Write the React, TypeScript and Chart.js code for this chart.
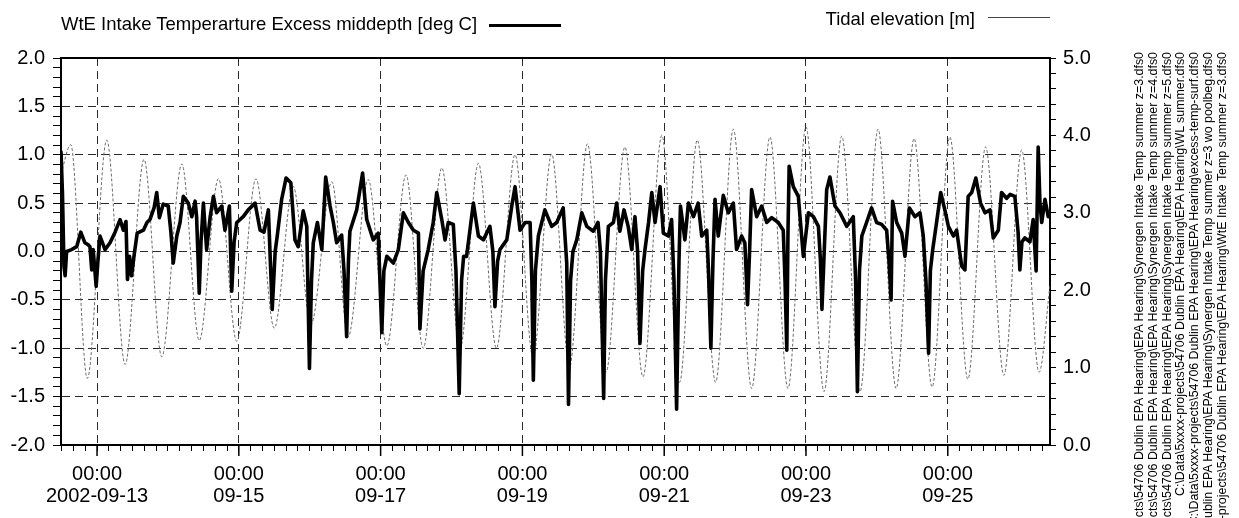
import React, { useEffect, useRef } from 'react';
import { Chart, registerables } from 'chart.js';

Chart.register(...registerables);

const FONT = '"Liberation Sans", Arial, Helvetica, sans-serif';

// Time axis: hours since 2002-09-13 00:00
const xMin = -12.2;
const xMax = 322.6;
const labelEveryHours = 48;
const minorTickHours = 4;

// WtE intake temperature excess, middepth [deg C] (left axis)
const tempHours = [
  -12.2, -11.7, -11.2, -10.8, -10.3, -8.6, -6.9, -5.5, -4.1, -3.0,
  -2.4, -1.8, -1.3, -0.3, 0.3, 1.0, 2.7, 4.4, 6.1, 7.8,
  8.9, 9.8, 10.3, 11.0, 11.7, 12.5, 13.6, 15.7, 16.9, 17.9,
  19.3, 20.2, 21.1, 22.4, 24.1, 25.0, 25.8, 27.0, 28.1, 29.2,
  30.9, 32.1, 33.2, 33.7, 34.6, 35.2, 36.0, 37.1, 38.3, 39.4,
  40.5, 42.2, 43.3, 44.8, 45.6, 46.4, 47.3, 49.5, 51.2, 53.5,
  55.2, 56.5, 58.0, 59.3, 60.3, 61.0, 62.5, 64.0, 65.6, 67.0,
  68.1, 69.8, 71.0, 71.9, 72.6, 73.2, 74.6, 76.1, 77.4, 78.9,
  80.0, 81.1, 82.8, 83.6, 84.5, 85.1, 85.6, 87.9, 89.9, 91.3,
  93.5, 95.2, 96.4, 97.1, 98.1, 100.3, 102.0, 103.7, 105.4, 107.1,
  108.8, 109.3, 110.4, 112.1, 113.8, 115.0, 116.7, 117.8, 118.9, 120.6,
  121.5, 122.6, 123.4, 124.1, 125.1, 127.4, 129.1, 130.8, 133.0, 134.0,
  134.7, 135.6, 136.4, 138.7, 140.4, 141.5, 143.2, 144.9, 146.6, 147.2,
  147.7, 148.4, 149.4, 151.6, 153.9, 155.6, 157.8, 159.0, 159.6, 160.3,
  161.1, 162.4, 164.1, 165.8, 168.0, 169.6, 170.4, 171.5, 172.1, 173.1,
  174.8, 175.9, 177.0, 178.4, 179.8, 181.0, 182.1, 183.0, 183.8, 184.7,
  185.5, 186.7, 187.8, 188.9, 190.6, 191.7, 193.4, 194.5, 195.3, 196.2,
  197.0, 197.5, 199.0, 200.2, 201.9, 203.5, 204.7, 206.4, 207.0, 207.8,
  208.5, 209.2, 210.3, 212.0, 213.7, 215.4, 216.5, 218.2, 219.3, 220.2,
  220.9, 221.6, 223.3, 225.0, 226.7, 228.4, 230.6, 232.3, 232.9, 233.5,
  233.9, 234.3, 235.7, 237.4, 239.1, 240.8, 242.5, 244.2, 244.9, 245.4,
  246.1, 247.0, 248.1, 249.8, 251.5, 253.8, 256.0, 256.8, 257.4, 258.1,
  258.9, 260.5, 262.2, 263.9, 265.6, 267.3, 268.1, 268.8, 269.3, 270.7,
  272.4, 273.5, 275.0, 276.9, 278.6, 279.7, 280.6, 281.5, 282.1, 282.9,
  284.2, 285.6, 287.0, 288.2, 289.9, 291.0, 292.7, 293.8, 294.9, 296.1,
  297.5, 299.1, 300.6, 302.3, 303.4, 305.1, 306.2, 307.9, 309.1, 310.7,
  311.8, 312.4, 313.1, 314.1, 315.8, 316.9, 317.9, 318.6, 319.2, 319.8,
  320.9, 322.0, 322.6,
];
const tempValues = [
  1.03, 0.6, -0.15, -0.25, 0.0, 0.02, 0.05, 0.2, 0.09, 0.07,
  0.05, -0.19, 0.02, -0.36, -0.1, 0.16, 0.02, 0.09, 0.2, 0.33,
  0.22, 0.31, -0.29, -0.05, -0.25, -0.05, 0.19, 0.22, 0.3, 0.33,
  0.45, 0.61, 0.35, 0.49, 0.47, 0.2, -0.12, 0.16, 0.3, 0.57,
  0.5, 0.36, 0.52, 0.36, -0.43, 0.1, 0.5, 0.02, 0.36, 0.57,
  0.4, 0.47, 0.22, 0.47, -0.41, 0.1, 0.3, 0.36, 0.43, 0.5,
  0.22, 0.2, 0.43, -0.6, 0.0, 0.16, 0.54, 0.76, 0.71, 0.12,
  0.05, 0.42, 0.26, -1.21, -0.3, 0.09, 0.3, 0.02, 0.77, 0.47,
  0.3, 0.09, 0.17, -0.2, -0.88, -0.1, 0.21, 0.43, 0.81, 0.33,
  0.12, 0.19, -0.84, -0.2, -0.05, -0.12, 0.02, 0.4, 0.3, 0.22,
  0.19, -0.8, -0.2, 0.02, 0.3, 0.61, 0.33, 0.12, 0.3, 0.28,
  -0.2, -1.47, -0.3, -0.05, -0.05, 0.5, 0.16, 0.12, 0.26, 0.0,
  -0.57, -0.1, 0.02, 0.12, 0.47, 0.67, 0.22, 0.3, 0.3, -0.3,
  -1.33, -0.2, 0.16, 0.43, 0.26, 0.3, 0.45, -0.12, -1.58, -0.3,
  0.0, 0.12, 0.4, 0.26, 0.21, 0.3, 0.0, -1.52, -0.3, 0.26,
  0.3, 0.5, 0.21, 0.43, 0.26, 0.02, 0.36, 0.0, -0.95, -0.2,
  0.02, 0.3, 0.61, 0.3, 0.67, 0.19, 0.16, 0.33, -0.3, -1.63,
  -0.1, 0.47, 0.12, 0.5, 0.36, 0.5, 0.16, 0.22, -0.2, -1.0,
  -0.1, 0.54, 0.16, 0.58, 0.4, 0.5, 0.02, 0.16, 0.09, -0.55,
  0.0, 0.64, 0.36, 0.47, 0.3, 0.35, 0.3, 0.22, -0.3, -1.02,
  0.2, 0.88, 0.67, 0.57, -0.05, 0.4, 0.36, 0.26, -0.1, -0.6,
  -0.05, 0.64, 0.77, 0.47, 0.4, 0.26, 0.36, -0.3, -1.45, -0.2,
  0.16, 0.3, 0.45, 0.3, 0.28, 0.22, -0.1, -0.5, 0.52, 0.3,
  0.19, -0.05, 0.45, 0.36, 0.4, 0.16, -0.3, -1.05, -0.2, 0.02,
  0.3, 0.61, 0.43, 0.26, 0.16, 0.22, -0.15, -0.19, 0.57, 0.61,
  0.76, 0.5, 0.4, 0.43, 0.14, 0.22, 0.61, 0.55, 0.59, 0.57,
  0.2, -0.19, 0.1, 0.14, 0.1, 0.33, -0.2, 1.08, 0.5, 0.3,
  0.54, 0.36, 0.4,
];

// Tidal elevation [m] (right axis): high and low waters
const tideHours = [
  -12.2, -8.9, -3.3, 3.3, 9.5, 15.9, 21.9, 28.7, 34.6, 41.1,
  47.3, 53.8, 60.0, 66.4, 72.4, 79.5, 85.0, 91.8, 98.1, 104.6,
  110.4, 116.7, 122.9, 129.1, 135.2, 141.5, 147.6, 153.9, 159.9, 166.0,
  172.3, 178.7, 184.8, 191.2, 197.2, 203.2, 209.4, 215.4, 221.6, 227.8,
  233.9, 240.0, 246.1, 252.1, 258.3, 264.4, 270.5, 276.6, 282.7, 288.7,
  294.8, 300.8, 307.0, 313.0, 318.9, 322.6,
];
const tideLevels = [
  3.5, 3.88, 0.86, 3.94, 1.04, 3.69, 1.14, 3.63, 1.35, 3.44,
  1.34, 3.44, 1.51, 3.34, 1.56, 3.4, 1.4, 3.43, 1.28, 3.49,
  1.25, 3.58, 1.25, 3.64, 1.25, 3.75, 1.13, 3.76, 1.0, 3.89,
  0.94, 3.85, 0.88, 4.0, 0.81, 3.94, 0.81, 4.08, 0.73, 3.98,
  0.73, 4.11, 0.69, 3.99, 0.69, 4.08, 0.73, 3.96, 0.75, 3.98,
  0.85, 3.85, 0.9, 3.81, 0.94, 2.06,
];

const leftRange = [-2, 2];
const rightRange = [0, 5];

const legendTemp = 'WtE Intake Temperarture Excess middepth [deg C]';
const legendTide = 'Tidal elevation [m]';

const fileLines = [
  'C:\\Data\\5xxxx-projects\\54706 Dublin EPA Hearing\\EPA Hearing\\Synergen Intake Temp summer z=3.dfs0',
  'C:\\Data\\5xxxx-projects\\54706 Dublin EPA Hearing\\EPA Hearing\\Synergen Intake Temp summer z=4.dfs0',
  'C:\\Data\\5xxxx-projects\\54706 Dublin EPA Hearing\\EPA Hearing\\Synergen Intake Temp summer z=5.dfs0',
  'C:\\Data\\5xxxx-projects\\54706 Dublin EPA Hearing\\EPA Hearing\\WL summer.dfs0',
  'C:\\Data\\5xxxx-projects\\54706 Dublin EPA Hearing\\EPA Hearing\\excess-temp-surf.dfs0',
  'C:\\Data\\5xxxx-projects\\54706 Dublin EPA Hearing\\EPA Hearing\\Synergen Intake Temp summer z=3 wo poolbeg.dfs0',
  'C:\\Data\\5xxxx-projects\\54706 Dublin EPA Hearing\\EPA Hearing\\WtE Intake Temp summer z=3.dfs0',
];

const pad2 = (n: number) => String(n).padStart(2, '0');
function timeLabel(h: number): string[] {
  const d = new Date(Date.UTC(2002, 8, 13) + h * 3600000);
  const md = `${pad2(d.getUTCMonth() + 1)}-${pad2(d.getUTCDate())}`;
  const time = `${pad2(d.getUTCHours())}:${pad2(d.getUTCMinutes())}`;
  return [time, h === 0 ? `${d.getUTCFullYear()}-${md}` : md];
}
const isMult = (v: number, step: number) => Math.abs(v / step - Math.round(v / step)) < 1e-6;
const GRID = '#2a2a2a';
const NONE = 'rgba(0,0,0,0)';

// longer tick marks at the labelled (major) time ticks
const majorTickPlugin = {
  id: 'majorTicks',
  afterDraw(chart: any) {
    const s = chart.scales.x;
    const ctx = chart.ctx;
    ctx.save();
    ctx.strokeStyle = '#000';
    ctx.lineWidth = 1.5;
    s.ticks.forEach((t: any) => {
      if (isMult(t.value, labelEveryHours)) {
        const x = s.getPixelForValue(t.value);
        ctx.beginPath();
        ctx.moveTo(x, s.top);
        ctx.lineTo(x, s.top + 11);
        ctx.stroke();
      }
    });
    ctx.restore();
  },
};

export default function App() {
  const ref = useRef<HTMLCanvasElement>(null);

  useEffect(() => {
    const canvas = ref.current;
    if (!canvas) return;
    const chart = new Chart(canvas, {
      type: 'line',
      data: {
        datasets: [
          {
            label: legendTemp,
            data: tempHours.map((h, i) => ({ x: h, y: tempValues[i] })),
            xAxisID: 'x',
            yAxisID: 'y',
            borderColor: '#000',
            borderWidth: 3.6,
            borderJoinStyle: 'round',
            borderCapStyle: 'round',
            pointRadius: 0,
            tension: 0,
          },
          {
            label: legendTide,
            data: tideHours.map((h, i) => ({ x: h, y: tideLevels[i] })),
            xAxisID: 'x',
            yAxisID: 'y2',
            borderColor: '#6a6a6a',
            borderWidth: 1,
            borderDash: [3, 2],
            pointRadius: 0,
            cubicInterpolationMode: 'monotone',
          },
        ],
      },
      plugins: [majorTickPlugin],
      options: {
        animation: false,
        responsive: false,
        devicePixelRatio: 1,
        layout: { padding: { left: 0, top: 58, right: 129, bottom: 13 } },
        plugins: { legend: { display: false }, tooltip: { enabled: false } },
        scales: {
          x: {
            type: 'linear',
            position: 'bottom',
            min: xMin,
            max: xMax,
            afterFit: (s: any) => { s.height = 60; },
            ticks: {
              stepSize: minorTickHours,
              autoSkip: false,
              includeBounds: false,
              maxRotation: 0,
              minRotation: 0,
              padding: 12,
              color: '#000',
              font: { family: FONT, size: 20, lineHeight: 1.1 },
              callback: (v: any) => (isMult(Number(v), labelEveryHours) ? timeLabel(Number(v)) : ''),
            },
            grid: {
              color: (c: any) => (c.tick && isMult(c.tick.value, labelEveryHours) ? GRID : NONE),
              lineWidth: 1,
              tickColor: '#000',
              tickLength: 6,
              tickWidth: 1,
            },
            border: { display: true, color: '#000', width: 2, dash: [8, 5] },
          },
          xTop: {
            type: 'linear',
            position: 'top',
            min: xMin,
            max: xMax,
            afterFit: (s: any) => { s.height = 0; },
            ticks: { display: false },
            grid: { drawOnChartArea: false, drawTicks: false },
            border: { display: true, color: '#000', width: 2 },
          },
          y: {
            type: 'linear',
            position: 'left',
            min: leftRange[0],
            max: leftRange[1],
            afterFit: (s: any) => { s.width = 61; },
            ticks: {
              stepSize: 0.1,
              autoSkip: false,
              padding: 8,
              color: '#000',
              font: { family: FONT, size: 20 },
              callback: (v: any) => (isMult(Number(v), 0.5) ? Number(v).toFixed(1) : ''),
            },
            grid: {
              color: (c: any) =>
                c.tick && isMult(c.tick.value, 0.5) && Math.abs(c.tick.value) < 1.99 ? GRID : NONE,
              lineWidth: 1,
              tickColor: '#000',
              tickLength: 8,
            },
            border: { display: true, color: '#000', width: 2, dash: [8, 5] },
          },
          y2: {
            type: 'linear',
            position: 'right',
            min: rightRange[0],
            max: rightRange[1],
            afterFit: (s: any) => { s.width = 60; },
            ticks: {
              stepSize: 0.2,
              autoSkip: false,
              padding: 7,
              color: '#000',
              font: { family: FONT, size: 20 },
              callback: (v: any) => (isMult(Number(v), 1) ? Number(v).toFixed(1) : ''),
            },
            grid: { drawOnChartArea: false, tickColor: '#000', tickLength: 6 },
            border: { display: true, color: '#000', width: 2 },
          },
        },
      } as any,
    });
    return () => chart.destroy();
  }, []);

  return (
    <div
      style={{
        position: 'absolute',
        left: 0,
        top: 0,
        width: 1239,
        height: 518,
        overflow: 'hidden',
        background: '#fff',
        fontFamily: FONT,
        color: '#000',
      }}
    >
      <canvas ref={ref} width={1239} height={518} style={{ position: 'absolute', left: 0, top: 0, width: 1239, height: 518 }} />
      <div style={{ position: 'absolute', left: 61, top: 15, fontSize: 18.5, lineHeight: 1, whiteSpace: 'nowrap' }}>
        {legendTemp}
      </div>
      <div style={{ position: 'absolute', left: 489, top: 24, width: 72, height: 3, background: '#000' }} />
      <div style={{ position: 'absolute', right: 264, top: 10, fontSize: 18.5, lineHeight: 1, whiteSpace: 'nowrap' }}>
        {legendTide}
      </div>
      <div style={{ position: 'absolute', left: 988, top: 17, width: 62, height: 1, background: '#444' }} />
      <div
        style={{
          position: 'absolute',
          left: 1133,
          top: 852,
          width: 800,
          transformOrigin: '0 0',
          transform: 'rotate(-90deg)',
          fontSize: 12.4,
          lineHeight: '13.8px',
          textAlign: 'right',
          whiteSpace: 'nowrap',
        }}
      >
        {fileLines.map((t, i) => (
          <div key={i}>{t}</div>
        ))}
      </div>
    </div>
  );
}
